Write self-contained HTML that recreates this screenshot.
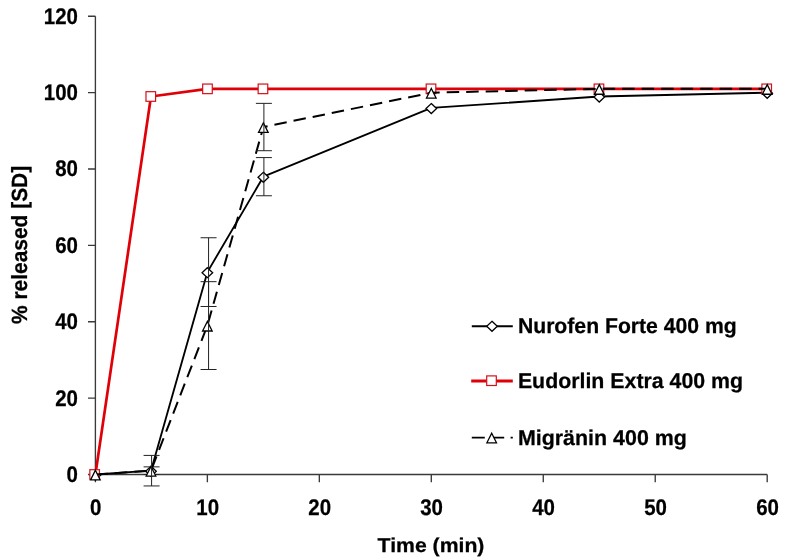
<!DOCTYPE html>
<html><head><meta charset="utf-8"><title>Dissolution profiles</title>
<style>
html,body{margin:0;padding:0;background:#fff;}
body{width:785px;height:559px;overflow:hidden;}
svg{display:block;}
text{font-family:"Liberation Sans",sans-serif;font-weight:bold;text-rendering:geometricPrecision;fill:#000;stroke:#000;stroke-width:0.25px;}
</style></head><body>
<svg width="785" height="559" viewBox="0 0 785 559">
<rect width="785" height="559" fill="#fff"/>
<path d="M95.40,16.30V474.50H767.20M88.00,474.50H95.40M88.00,398.13H95.40M88.00,321.77H95.40M88.00,245.40H95.40M88.00,169.03H95.40M88.00,92.67H95.40M88.00,16.30H95.40M95.40,474.50V482.20M207.37,474.50V482.20M319.33,474.50V482.20M431.30,474.50V482.20M543.27,474.50V482.20M655.23,474.50V482.20M767.20,474.50V482.20" fill="none" stroke="#3a3a3a" stroke-width="1.35"/>
<text transform="translate(77.90,481.75) scale(0.905,1)" text-anchor="end" font-size="22.6">0</text>
<text transform="translate(77.90,405.98) scale(0.905,1)" text-anchor="end" font-size="22.6">20</text>
<text transform="translate(77.90,329.02) scale(0.905,1)" text-anchor="end" font-size="22.6">40</text>
<text transform="translate(77.90,252.65) scale(0.905,1)" text-anchor="end" font-size="22.6">60</text>
<text transform="translate(77.90,176.28) scale(0.905,1)" text-anchor="end" font-size="22.6">80</text>
<text transform="translate(77.90,99.92) scale(0.905,1)" text-anchor="end" font-size="22.6">100</text>
<text transform="translate(77.90,23.55) scale(0.905,1)" text-anchor="end" font-size="22.6">120</text>
<text transform="translate(95.70,515.00) scale(0.905,1)" text-anchor="middle" font-size="22.6">0</text>
<text transform="translate(207.67,515.00) scale(0.905,1)" text-anchor="middle" font-size="22.6">10</text>
<text transform="translate(319.63,515.00) scale(0.905,1)" text-anchor="middle" font-size="22.6">20</text>
<text transform="translate(431.60,515.00) scale(0.905,1)" text-anchor="middle" font-size="22.6">30</text>
<text transform="translate(543.57,515.00) scale(0.905,1)" text-anchor="middle" font-size="22.6">40</text>
<text transform="translate(655.53,515.00) scale(0.905,1)" text-anchor="middle" font-size="22.6">50</text>
<text transform="translate(767.50,515.00) scale(0.905,1)" text-anchor="middle" font-size="22.6">60</text>
<text transform="translate(431.00,552.00) scale(1.06,1)" text-anchor="middle" font-size="20">Time (min)</text>
<text transform="translate(27.20,244.90) rotate(-90) scale(0.951,1)" text-anchor="middle" font-size="22">% released [SD]</text>
<polyline points="95.40,474.50 150.98,470.68 207.37,272.13 263.35,176.67 431.30,107.94 599.25,96.49 767.20,92.67" fill="none" stroke="#000" stroke-width="1.85" stroke-linejoin="round"/>
<path d="M95.40,470.10L100.70,475.10L95.40,480.10L90.10,475.10Z" fill="#fff" stroke="#000" stroke-width="1.3"/>
<path d="M150.98,466.28L156.28,471.28L150.98,476.28L145.68,471.28Z" fill="#fff" stroke="#000" stroke-width="1.3"/>
<path d="M207.37,267.73L212.67,272.73L207.37,277.73L202.07,272.73Z" fill="#fff" stroke="#000" stroke-width="1.3"/>
<path d="M263.35,172.27L268.65,177.27L263.35,182.27L258.05,177.27Z" fill="#fff" stroke="#000" stroke-width="1.3"/>
<path d="M431.30,103.54L436.60,108.54L431.30,113.54L426.00,108.54Z" fill="#fff" stroke="#000" stroke-width="1.3"/>
<path d="M599.25,92.09L604.55,97.09L599.25,102.09L593.95,97.09Z" fill="#fff" stroke="#000" stroke-width="1.3"/>
<path d="M767.20,88.27L772.50,93.27L767.20,98.27L761.90,93.27Z" fill="#fff" stroke="#000" stroke-width="1.3"/>
<path d="M151.58,474.50V466.86M143.58,474.50h16M143.58,466.86h16M208.57,306.49V237.76M200.57,306.49h16M200.57,237.76h16M263.90,195.76V157.58M255.90,195.76h16M255.90,157.58h16" fill="none" stroke="#222" stroke-width="1"/>
<polyline points="95.40,474.50 150.98,96.49 207.37,88.85 263.35,88.85 431.30,88.85 599.25,88.85 767.20,88.85" fill="none" stroke="#e00008" stroke-width="2.7" stroke-linejoin="round"/>
<rect x="89.85" y="469.70" width="9.6" height="9.6" fill="#fff" stroke="#d4101a" stroke-width="1.2"/>
<rect x="145.98" y="91.69" width="9.6" height="9.6" fill="#fff" stroke="#d4101a" stroke-width="1.2"/>
<rect x="202.67" y="84.05" width="9.6" height="9.6" fill="#fff" stroke="#d4101a" stroke-width="1.2"/>
<rect x="258.15" y="84.05" width="9.6" height="9.6" fill="#fff" stroke="#d4101a" stroke-width="1.2"/>
<rect x="426.20" y="84.05" width="9.6" height="9.6" fill="#fff" stroke="#d4101a" stroke-width="1.2"/>
<rect x="594.15" y="84.05" width="9.6" height="9.6" fill="#fff" stroke="#d4101a" stroke-width="1.2"/>
<rect x="761.90" y="84.05" width="9.6" height="9.6" fill="#fff" stroke="#d4101a" stroke-width="1.2"/>
<polyline points="95.40,474.50 150.98,470.68 207.37,325.59 263.35,127.03 431.30,92.67 599.25,88.85 767.20,88.85" fill="none" stroke="#000" stroke-width="2" stroke-dasharray="12.5,7.0" stroke-linejoin="round"/>
<path d="M95.40,470.30L100.20,479.90L90.60,479.90Z" fill="#fff" stroke="#000" stroke-width="1.3"/>
<path d="M150.98,466.48L155.78,476.08L146.18,476.08Z" fill="#fff" stroke="#000" stroke-width="1.3"/>
<path d="M207.37,321.39L212.17,330.99L202.57,330.99Z" fill="#fff" stroke="#000" stroke-width="1.3"/>
<path d="M263.35,122.83L268.15,132.43L258.55,132.43Z" fill="#fff" stroke="#000" stroke-width="1.3"/>
<path d="M431.30,88.47L436.10,98.07L426.50,98.07Z" fill="#fff" stroke="#000" stroke-width="1.3"/>
<path d="M599.25,84.65L604.05,94.25L594.45,94.25Z" fill="#fff" stroke="#000" stroke-width="1.3"/>
<path d="M767.20,84.65L772.00,94.25L762.40,94.25Z" fill="#fff" stroke="#000" stroke-width="1.3"/>
<path d="M151.58,485.95V455.41M143.58,485.95h16M143.58,455.41h16M208.57,369.50V281.67M200.57,369.50h16M200.57,281.67h16M263.90,150.71V103.36M255.90,150.71h16M255.90,103.36h16" fill="none" stroke="#222" stroke-width="1"/>
<path d="M471.8,326.3H512.8" stroke="#000" stroke-width="1.9"/>
<path d="M492.00,321.30L497.30,326.30L492.00,331.30L486.70,326.30Z" fill="#fff" stroke="#000" stroke-width="1.3"/>
<path d="M471.2,381.0H512.8" stroke="#e00008" stroke-width="2.8"/>
<rect x="486.70" y="375.90" width="9.6" height="9.6" fill="#fff" stroke="#d4101a" stroke-width="1.2"/>
<path d="M471.8,437.7H512.8" stroke="#000" stroke-width="1.8" stroke-dasharray="13,6.4"/>
<path d="M491.70,433.20L496.50,442.80L486.90,442.80Z" fill="#fff" stroke="#000" stroke-width="1.3"/>
<text transform="translate(517.90,333.10) scale(0.99,1)" text-anchor="start" font-size="21.4">Nurofen Forte 400 mg</text>
<text transform="translate(517.90,388.40) scale(0.997,1)" text-anchor="start" font-size="21.4">Eudorlin Extra 400 mg</text>
<text transform="translate(517.90,444.60) scale(1.001,1)" text-anchor="start" font-size="21.4">Migränin 400 mg</text>
</svg></body></html>
